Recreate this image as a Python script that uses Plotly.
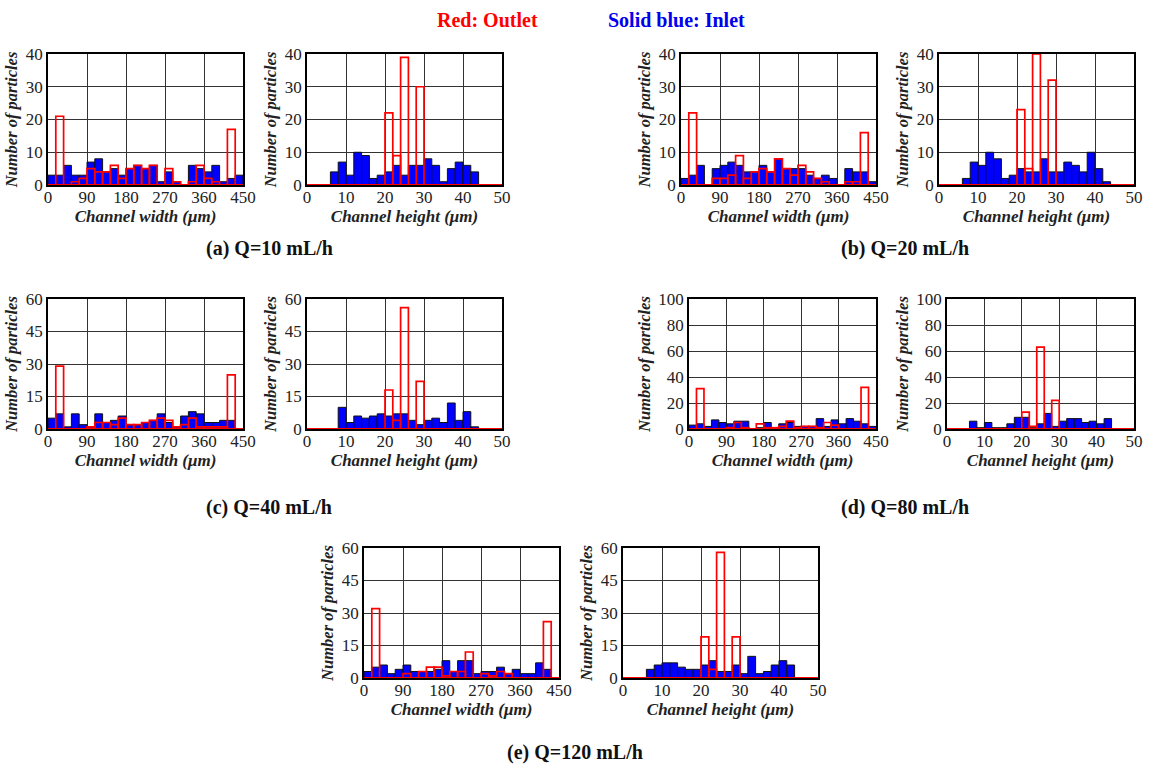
import plotly.graph_objects as go

# ---------------- data ----------------
width_bins = [9 + 18 * i for i in range(25)]      # bin centres, channel width (um)
height_bins = [1 + 2 * i for i in range(25)]      # bin centres, channel height (um)

a_w_in  = [3,3,6,3,3,7,8,4,5,3,5,6,5,6,1,4,1,0,6,5,4,6,1,2,3]
a_w_out = [0,21,0,1,2,5,4,4,6,2,5,6,5,6,0,5,1,0,1,6,2,1,0,17,0]
a_h_in  = [0,0,0,4,7,3,10,9,2,3,4,6,3,6,6,8,6,1,5,7,6,4,0,0,0]
a_h_out = [0,0,0,0,0,0,0,0,0,0,22,9,39,0,30,0,0,0,0,0,0,0,0,0,0]

b_w_in  = [2,3,6,0,5,6,7,6,4,4,6,4,8,5,5,5,3,2,3,2,0,5,4,4,1]
b_w_out = [0,22,0,0,2,2,3,9,2,4,5,4,8,5,3,6,4,2,1,0,0,1,1,16,0]
b_h_in  = [0,0,0,2,7,6,10,8,2,3,5,4,4,8,4,4,7,6,4,10,5,1,0,0,0]
b_h_out = [0,0,0,0,0,0,0,0,0,0,23,5,40,0,32,0,0,0,0,0,0,0,0,0,0]

c_w_in  = [5,7,1,7,2,1,7,3,4,6,2,2,3,4,7,3,1,6,8,7,3,3,4,4,0]
c_w_out = [0,29,0,0,0,1,3,3,2,5,2,2,3,4,5,4,1,2,5,1,1,1,1,25,0]
c_h_in  = [0,0,0,0,10,3,6,5,6,7,6,7,7,4,2,4,5,3,12,4,8,1,0,0,0]
c_h_out = [0,0,0,0,0,0,0,0,0,0,18,4,56,0,22,0,0,0,0,0,0,0,0,0,0]

d_w_in  = [3,4,2,7,5,4,6,6,0,1,5,1,4,5,2,2,2,8,2,7,4,8,6,4,2]
d_w_out = [0,31,0,0,0,1,5,1,0,4,1,1,2,6,1,2,2,1,5,3,0,0,0,32,0]
d_h_in  = [0,0,0,6,1,5,1,1,4,9,9,1,4,12,2,6,8,8,5,6,4,8,0,0,0]
d_h_out = [0,0,0,0,0,0,0,0,0,0,13,2,63,0,22,0,0,0,0,0,0,0,0,0,0]

e_w_in  = [3,5,6,2,4,6,3,3,3,4,8,3,8,8,2,3,3,5,2,4,2,2,7,4,0]
e_w_out = [0,32,0,0,0,2,0,3,5,5,1,3,3,12,0,2,1,3,2,0,0,0,0,26,0]
e_h_in  = [0,0,0,4,6,7,7,5,4,4,6,8,3,3,6,2,10,2,3,6,8,6,0,0,0]
e_h_out = [0,0,0,0,0,0,0,0,0,0,19,4,58,0,19,0,0,0,0,0,0,0,0,0,0]

width_ticks = [0, 90, 180, 270, 360, 450]
height_ticks = [0, 10, 20, 30, 40, 50]

captions = ["(a) Q=10 mL/h", "(b) Q=20 mL/h", "(c) Q=40 mL/h",
            "(d) Q=80 mL/h", "(e) Q=120 mL/h"]

# ---------------- layout ----------------
W, H = 1152, 769
FONT = "Liberation Serif, Times New Roman, serif"

def dom(x0, x1, y0, y1):
    return [x0 / W, x1 / W], [1 - y1 / H, 1 - y0 / H]

panels = [
    # kind, inlet, outlet, ymax, dtick, pixel box
    ("w", a_w_in, a_w_out, 40, 10, (48, 243, 54, 185)),
    ("h", a_h_in, a_h_out, 40, 10, (307, 502, 54, 185)),
    ("w", b_w_in, b_w_out, 40, 10, (681, 876, 54, 185)),
    ("h", b_h_in, b_h_out, 40, 10, (939, 1134, 54, 185)),
    ("w", c_w_in, c_w_out, 60, 15, (48, 243, 299, 429)),
    ("h", c_h_in, c_h_out, 60, 15, (307, 502, 299, 429)),
    ("w", d_w_in, d_w_out, 100, 20, (689, 876, 299, 429)),
    ("h", d_h_in, d_h_out, 100, 20, (947, 1134, 299, 429)),
    ("w", e_w_in, e_w_out, 60, 15, (364, 559, 548, 678)),
    ("h", e_h_in, e_h_out, 60, 15, (623, 818, 548, 678)),
]

fig = go.Figure()
layout = dict(
    width=W, height=H, margin=dict(l=0, r=0, t=0, b=0, autoexpand=False),
    paper_bgcolor="white", plot_bgcolor="white",
    showlegend=False, barmode="overlay",
    font=dict(family=FONT, color="#222"),
)
shapes = []
for i, (kind, inl, outl, ymax, dt, box) in enumerate(panels):
    n = "" if i == 0 else str(i + 1)
    xa, ya = "x" + n, "y" + n
    xd, yd = dom(*box)
    if kind == "w":
        xs, bw, xr, tv = width_bins, 18, [0, 450], width_ticks
        xt = "<b><i>Channel width (μm)</i></b>"
    else:
        xs, bw, xr, tv = height_bins, 2, [0, 50], height_ticks
        xt = "<b><i>Channel height (μm)</i></b>"
    fig.add_trace(go.Bar(x=xs, y=inl, width=bw, xaxis=xa, yaxis=ya,
                         marker=dict(color="#0000ff", line=dict(color="#111", width=1)),
                         name="Inlet"))
    fig.add_trace(go.Bar(x=xs, y=outl, width=bw, xaxis=xa, yaxis=ya,
                         marker=dict(color="rgba(0,0,0,0)", line=dict(color="#ff0000", width=1.7)),
                         name="Outlet"))
    layout["xaxis" + n] = dict(
        domain=xd, anchor=ya, range=xr, tickvals=tv, showgrid=True,
        gridcolor="#333", gridwidth=1.2, showline=True, linecolor="black",
        linewidth=1.5, mirror=True, ticks="", zeroline=False, automargin=False,
        ticklabelstandoff=-4,
        tickfont=dict(size=17, family=FONT, color="#222"),
        title=dict(text=xt, font=dict(size=17, family=FONT, color="#222"), standoff=0),
    )
    layout["yaxis" + n] = dict(
        domain=yd, anchor=xa, range=[0, ymax], dtick=dt, showgrid=True,
        gridcolor="#333", gridwidth=1.2, showline=True, linecolor="black",
        linewidth=1.5, mirror=True, ticks="", zeroline=False, automargin=False,
        tickfont=dict(size=17, family=FONT, color="#222"),
        title=dict(text="<b><i>Number of particles</i></b>",
                   font=dict(size=16.5, family=FONT, color="#222"), standoff=4),
    )
    shapes.append(dict(type="line", xref=xa + " domain", yref=ya,
                       x0=0, x1=1, y0=0, y1=0, layer="above",
                       line=dict(color="#ff0000", width=2.2)))

annotations = [
    dict(text="<b>Red: Outlet</b>", x=487 / W, y=1 - 20 / H, xref="paper", yref="paper",
         xanchor="center", yanchor="middle",
         showarrow=False, font=dict(size=20, family=FONT, color="#ff0000")),
    dict(text="<b>Solid blue: Inlet</b>", x=676 / W, y=1 - 20 / H, xref="paper", yref="paper",
         xanchor="center", yanchor="middle",
         showarrow=False, font=dict(size=20, family=FONT, color="#0000ee")),
]
cap_pos = [(269, 249), (905, 249), (269, 507), (905, 507), (575, 752)]
for txt, (cx, cy) in zip(captions, cap_pos):
    annotations.append(dict(text="<b>" + txt + "</b>", x=cx / W, y=1 - cy / H,
                            xref="paper", yref="paper", showarrow=False,
                            xanchor="center", yanchor="middle",
                            font=dict(size=20, family=FONT, color="#111")))
layout["shapes"] = shapes
layout["annotations"] = annotations
fig.update_layout(**layout)
fig.write_html("out.html")
